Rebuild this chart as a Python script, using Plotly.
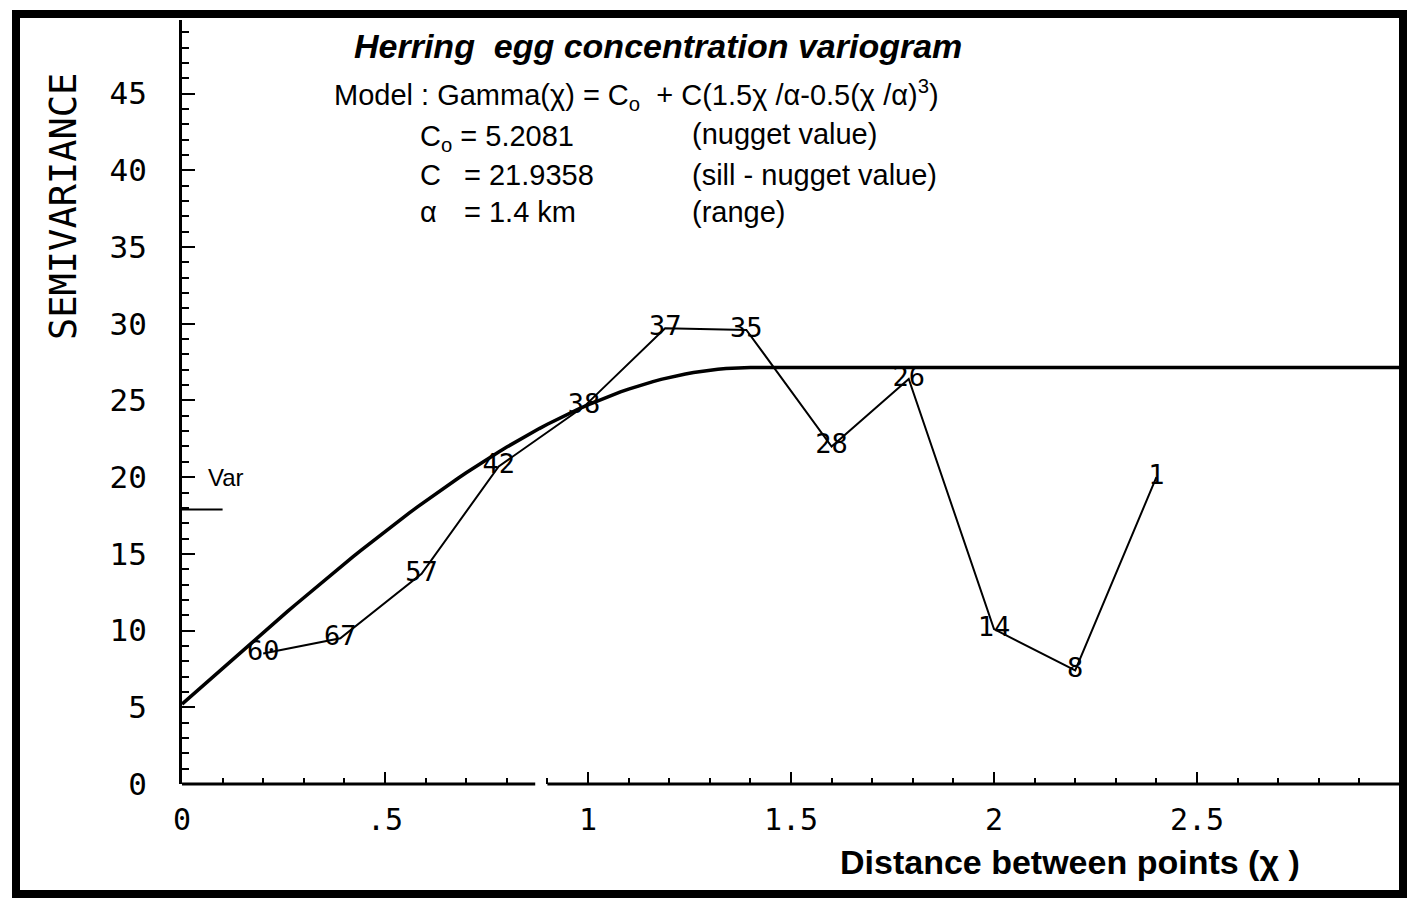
import plotly.graph_objects as go

# ---------------- data ----------------
lag_distance = [0.20, 0.39, 0.59, 0.78, 0.99, 1.19, 1.39, 1.60, 1.79, 2.00, 2.20, 2.40]
semivariance = [8.5, 9.5, 13.7, 20.7, 24.6, 29.7, 29.6, 22.0, 26.4, 10.1, 7.4, 20.0]
pair_counts = ["60", "67", "57", "42", "38", "37", "35", "28", "26", "14", "8", "1"]

# spherical model parameters (as printed on the chart)
nugget = 5.2081
partial_sill = 21.9358
model_range = 1.4
sample_variance = 17.9

x_ticks = [0, 0.5, 1, 1.5, 2, 2.5]
x_tick_labels = ["0", ".5", "1", "1.5", "2", "2.5"]
y_ticks = [0, 5, 10, 15, 20, 25, 30, 35, 40, 45]
y_tick_labels = ["0", "5", "10", "15", "20", "25", "30", "35", "40", "45"]

# model curve evaluated at the printed parameters
model_x = [i * 0.02 for i in range(151)]
model_y = []
for h in model_x:
    if h < model_range:
        r = h / model_range
        model_y.append(nugget + partial_sill * (1.5 * r - 0.5 * r ** 3))
    else:
        model_y.append(nugget + partial_sill)

# ---------------- layout helpers ----------------
W, H = 1408, 899
ML, MR, MT, MB = 182, 8, 20, 115
PW, PH = W - ML - MR, H - MT - MB


def px(x):
    return (x - ML) / PW


def py(y):
    return (H - MB - y) / PH


MONO = "DejaVu Sans Mono"
SANS = "Liberation Sans, Arial, sans-serif"

fig = go.Figure()

fig.add_trace(go.Scatter(
    x=model_x, y=model_y, mode="lines",
    line=dict(color="black", width=3.5), hoverinfo="skip", showlegend=False))

fig.add_trace(go.Scatter(
    x=lag_distance, y=semivariance, mode="lines+text",
    text=pair_counts, textposition="middle center",
    textfont=dict(family=MONO, size=27, color="black"),
    line=dict(color="black", width=2), cliponaxis=False, showlegend=False))

fig.update_layout(
    width=W, height=H, autosize=False,
    margin=dict(l=ML, r=MR, t=MT, b=MB, pad=0),
    paper_bgcolor="white", plot_bgcolor="white",
    showlegend=False,
)

fig.update_xaxes(
    range=[0, 3.0], showgrid=False, zeroline=False, showline=False,
    tickmode="array", tickvals=x_ticks, ticktext=x_tick_labels,
    ticks="inside", ticklen=12, tickwidth=2, tickcolor="black",
    minor=dict(ticks="inside", tick0=0, dtick=0.1, ticklen=6, tickwidth=2, tickcolor="black"),
    tickfont=dict(family=MONO, size=30, color="black"),
    ticklabelstandoff=15,
)
fig.update_yaxes(
    range=[0, 49.8], showgrid=False, zeroline=False,
    showline=True, linecolor="black", linewidth=3,
    tickmode="array", tickvals=y_ticks, ticktext=y_tick_labels,
    ticks="inside", ticklen=13, tickwidth=2, tickcolor="black",
    minor=dict(ticks="inside", tick0=0, dtick=1, ticklen=7, tickwidth=2, tickcolor="black"),
    tickfont=dict(family=MONO, size=31, color="black"),
    ticklabelstandoff=26,
)

shapes = [
    # outer frame
    dict(type="rect", xref="paper", yref="paper",
         x0=px(16), x1=px(1403), y0=py(894), y1=py(14),
         line=dict(color="black", width=8), fillcolor="rgba(0,0,0,0)", layer="above"),
    # x axis line (with the small break)
    dict(type="line", xref="x", yref="paper", x0=0, x1=0.87, y0=0, y1=0,
         line=dict(color="black", width=3)),
    dict(type="line", xref="x", yref="paper", x0=0.9, x1=3.0, y0=0, y1=0,
         line=dict(color="black", width=3)),
    # sample variance marker
    dict(type="line", xref="x", yref="y", x0=0, x1=0.1, y0=sample_variance, y1=sample_variance,
         line=dict(color="black", width=2)),
]
fig.update_layout(shapes=shapes)

ann = []


def add_text(text, x, y, size, family=SANS, xanchor="left", yanchor="middle", angle=0, color="black"):
    ann.append(dict(text=text, x=px(x), y=py(y), xref="paper", yref="paper",
                    xanchor=xanchor, yanchor=yanchor, showarrow=False, textangle=angle,
                    font=dict(family=family, size=size, color=color)))


add_text("<b><i>Herring  egg concentration variogram</i></b>", 658, 46, 34, xanchor="center")
add_text("Model : Gamma(\u03c7) = C<sub>o</sub>  + C(1.5\u03c7 /\u03b1-0.5(\u03c7 /\u03b1)<sup>3</sup>)",
         332, 95, 29)
add_text("C<sub>o</sub> = 5.2081", 418, 138, 29)
add_text("(nugget value)", 690, 134, 29)
add_text("C", 418, 175, 29)
add_text("= 21.9358", 462, 175, 29)
add_text("(sill - nugget value)", 690, 175, 29)
add_text("\u03b1", 418, 212, 29)
add_text("= 1.4 km", 462, 212, 29)
add_text("(range)", 690, 212, 29)
add_text("SEMIVARIANCE", 63, 207, 37, family=MONO, xanchor="center", angle=-90)
add_text("Var", 206, 477, 24)
add_text("<b>Distance between points (\u03c7 )</b>", 838, 862, 34)

fig.update_layout(annotations=ann)

fig.write_html(
    "out.html",
    config={"displayModeBar": False},
    post_script="document.body.style.margin='0';document.body.style.padding='0';"
                "document.body.style.overflow='hidden';",
)
